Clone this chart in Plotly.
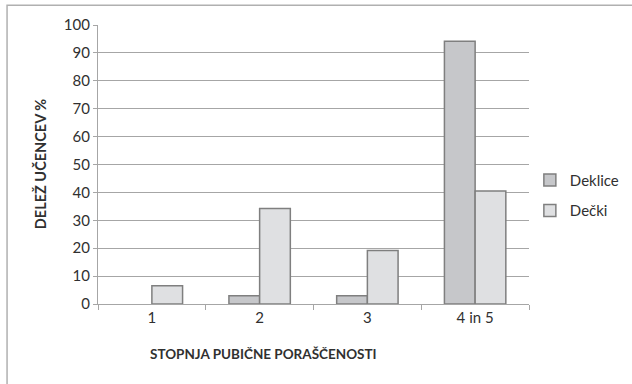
import plotly.graph_objects as go

# Stopnja pubične poraščenosti – delež učencev po spolu
categories = ["1", "2", "3", "4 in 5"]
deklice = [0, 3, 3, 94.2]
decki = [6.5, 34.2, 19.2, 40.5]
y_ticks = [0, 10, 20, 30, 40, 50, 60, 70, 80, 90, 100]

FONT = "Lato"
TEXT = "#303030"
GRID = "#a6a6a6"
EDGE = "#7f7f7f"


def edge_widths(values):
    # zero-height bars get no outline
    return [0 if v == 0 else 1.5 for v in values]


def bar(name, values, color, group):
    # points are passed last-to-first so the legend swatch takes its
    # outline from a non-empty bar; the axis keeps the category order
    return go.Bar(
        name=name, x=categories[::-1], y=values[::-1], legendgroup=group,
        marker=dict(color=color,
                    line=dict(color=EDGE, width=edge_widths(values)[::-1])),
    )


fig = go.Figure()
fig.add_trace(bar("Deklice", deklice, "#c6c7ca", "a"))
fig.add_trace(bar("Dečki", decki, "#dfe0e2", "b"))

fig.update_layout(
    width=632, height=384,
    margin=dict(l=98, r=103, t=25, b=80, autoexpand=False),
    paper_bgcolor="white", plot_bgcolor="white",
    barmode="group", bargap=0.43, bargroupgap=0,
    font=dict(family=FONT, size=15, color=TEXT),
    showlegend=True,
    legend=dict(x=1.002, y=0.39, yanchor="middle", xanchor="left",
                font=dict(size=15, color=TEXT), tracegroupgap=8,
                itemwidth=30, bgcolor="rgba(0,0,0,0)"),
    xaxis=dict(
        categoryorder="array", categoryarray=categories,
        showline=True, linecolor=GRID, linewidth=1.3,
        ticks="outside", tickson="boundaries", ticklen=5,
        tickcolor=GRID, tickwidth=1.3,
        showgrid=False, tickfont=dict(size=15, color=TEXT),
    ),
    yaxis=dict(
        range=[0, 100], tickvals=y_ticks,
        showline=True, linecolor=GRID, linewidth=1.3,
        ticks="outside", ticklen=4, tickcolor=GRID, tickwidth=1.3,
        showgrid=True, gridcolor=GRID, gridwidth=1.3,
        zeroline=False, tickfont=dict(size=15, color=TEXT),
    ),
    annotations=[
        dict(text="<b>DELEŽ UČENCEV %</b>", xref="paper", yref="paper",
             x=-0.133, y=0.5, xanchor="center", yanchor="middle",
             textangle=-90, showarrow=False,
             font=dict(size=14.5, color=TEXT, family=FONT)),
        dict(text="<b>STOPNJA PUBIČNE PORAŠČENOSTI</b>", xref="paper",
             yref="paper", x=0.385, y=-0.18, xanchor="center",
             yanchor="middle", showarrow=False,
             font=dict(size=13.5, color=TEXT, family=FONT)),
    ],
    shapes=[
        dict(type="rect", xref="paper", yref="paper",
             x0=-0.211, x1=1.3, y0=-0.35, y1=1.071,
             line=dict(color="#b0b0b0", width=1.5), layer="below"),
    ],
)

fig.write_html("out.html")
